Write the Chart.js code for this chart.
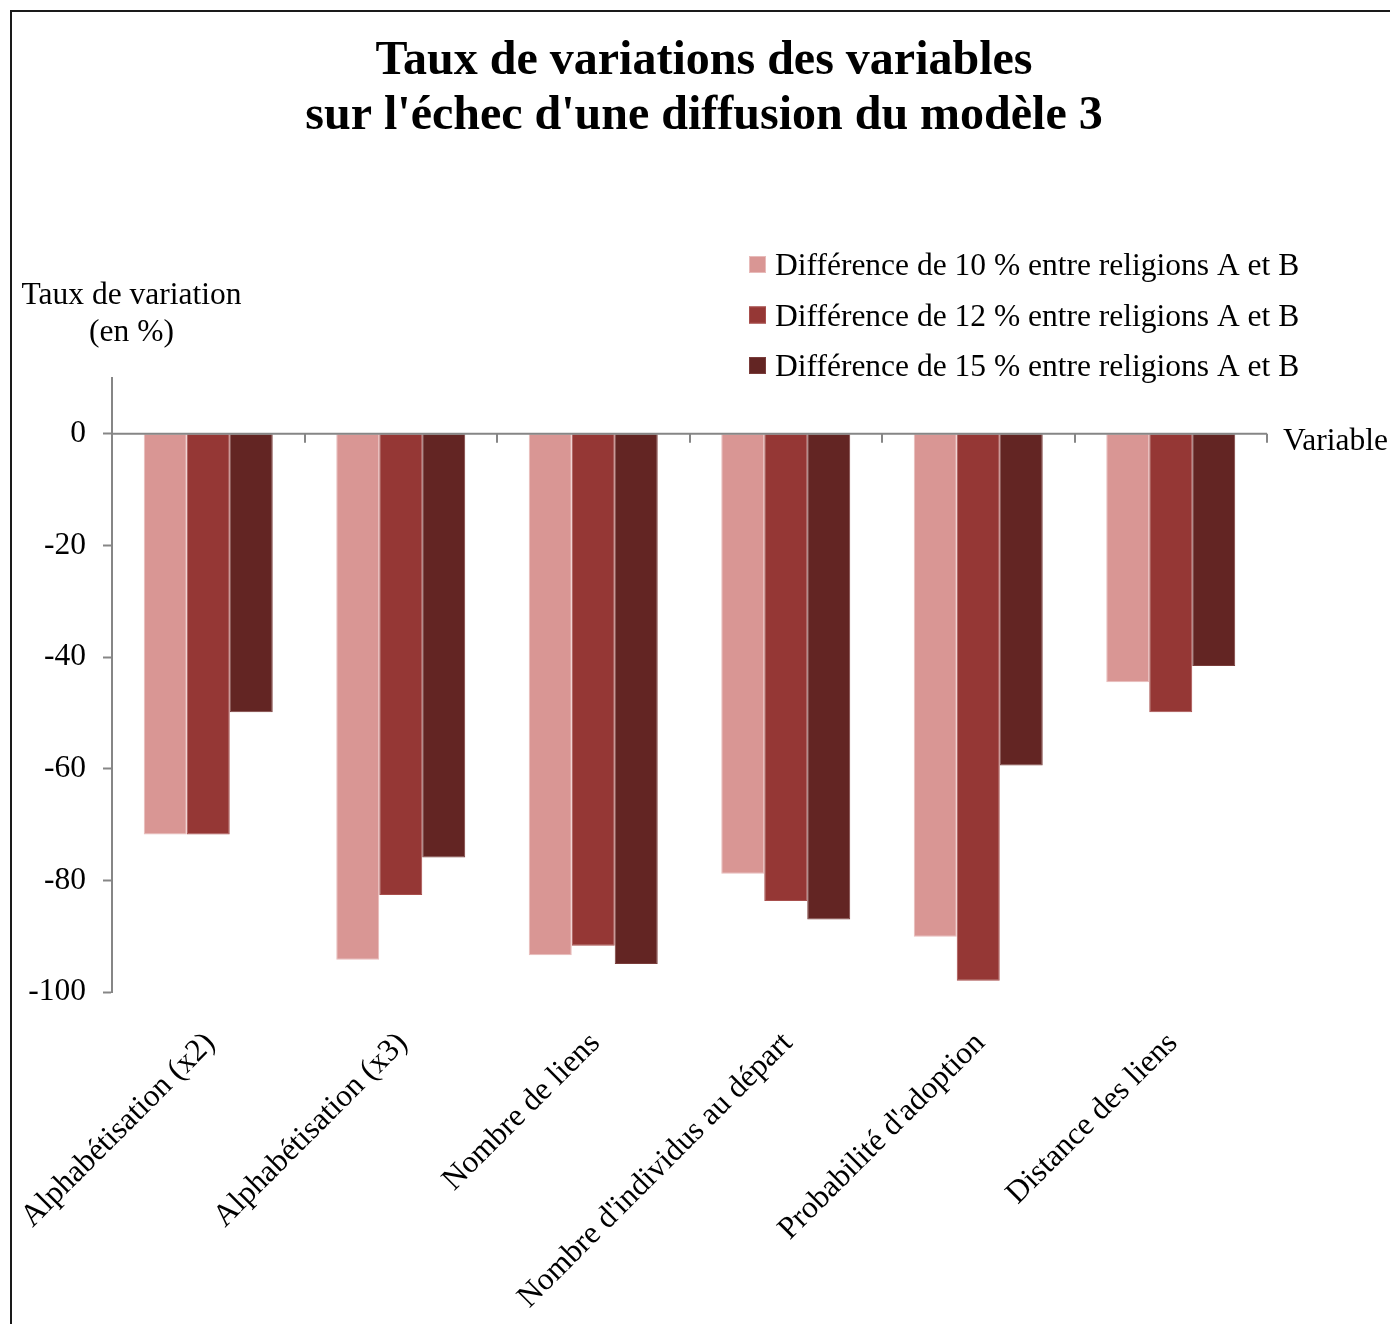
<!DOCTYPE html>
<html>
<head>
<meta charset="utf-8">
<script src="https://cdn.jsdelivr.net/npm/chart.js@4.4.1/dist/chart.umd.min.js"></script>
<style>
  html, body { margin: 0; padding: 0; background: #fff; overflow: hidden; }
  body { width: 1390px; height: 1324px; position: relative; }
  #cadre { position: absolute; left: 10px; top: 10px; width: 1500px; height: 1500px; border-left: 2px solid #1a1a1a; border-top: 2px solid #1a1a1a; }
  #wrap { position: absolute; left: 18px; top: 0; width: 1372px; height: 1324px; }
</style>
</head>
<body>
<div id="cadre"></div>
<div id="wrap"><canvas id="grafico" width="1372" height="1324"></canvas></div>
<script>
const variables = ['Alphabétisation (x2)', 'Alphabétisation (x3)', 'Nombre de liens', "Nombre d'individus au départ", "Probabilité d'adoption", 'Distance des liens'];
const diff10 = [-71.8, -94.2, -93.4, -78.8, -90.1, -44.5];
const diff12 = [-71.8, -82.6, -91.7, -83.7, -98.0, -49.9];
const diff15 = [-49.9, -75.9, -95.0, -87.0, -59.4, -41.6];
const nomsSeries = ['Différence de 10 % entre religions A et B', 'Différence de 12 % entre religions A et B', 'Différence de 15 % entre religions A et B'];
const ticksY = [-100, -80, -60, -40, -20, 0];
const titre = ['Taux de variations des variables', "sur l'échec d'une diffusion du modèle 3"];

const SERIF = "'Liberation Serif', 'Times New Roman', serif";
const GRIS = '#868686';

// axe du zero + petites graduations entre categories, titre, titres d'axes, legende
const decor = {
    id: 'decor',
    afterDatasetsDraw(chart) {
        const ctx = chart.ctx, area = chart.chartArea;
        const x = chart.scales.x, y = chart.scales.y;
        const y0 = y.getPixelForValue(0);
        const demi = (x.getPixelForValue(1) - x.getPixelForValue(0)) / 2;
        ctx.save();
        ctx.strokeStyle = GRIS; ctx.lineWidth = 2;
        ctx.beginPath();
        ctx.moveTo(area.left, y0); ctx.lineTo(area.right, y0);
        for (let i = 0; i <= variables.length; i++) {
            const px = Math.round(x.getPixelForValue(i) - demi);
            ctx.moveTo(px, y0); ctx.lineTo(px, y0 + 9);
        }
        ctx.stroke();
        ctx.restore();
    },
    afterDraw(chart) {
        const ctx = chart.ctx, area = chart.chartArea;
        const y0 = chart.scales.y.getPixelForValue(0);
        ctx.save();
        ctx.fillStyle = '#000';
        ctx.textAlign = 'center';
        ctx.textBaseline = 'middle';
        ctx.font = 'bold 48px ' + SERIF;
        titre.forEach((t, i) => ctx.fillText(t, 686, 62 + i * 55));

        ctx.font = '31.5px ' + SERIF;
        ctx.textBaseline = 'alphabetic';
        ctx.fillText('Taux de variation', 113.5, 304);
        ctx.fillText('(en %)', 113.5, 341);
        ctx.textAlign = 'left';
        ctx.fillText('Variable', area.right + 16, y0 + 16);

        chart.data.datasets.forEach((ds, i) => {
            const base = 275 + i * 50.5;
            ctx.fillStyle = ds.backgroundColor;
            ctx.fillRect(731, base - 19, 17, 17);
            ctx.strokeStyle = ds.borderColor; ctx.lineWidth = 1;
            ctx.strokeRect(731.5, base - 18.5, 16, 16);
            ctx.fillStyle = '#000';
            ctx.fillText(ds.label, 757, base);
        });
        ctx.restore();
    }
};

new Chart(document.getElementById('grafico'), {
    type: 'bar',
    data: {
        labels: variables,
        datasets: [
            { label: nomsSeries[0], data: diff10, backgroundColor: '#D99694', borderColor: '#E8BBBA', borderWidth: 1 },
            { label: nomsSeries[1], data: diff12, backgroundColor: '#953735', borderColor: '#A84F4D', borderWidth: 1 },
            { label: nomsSeries[2], data: diff15, backgroundColor: '#632523', borderColor: '#7A3D3B', borderWidth: 1 }
        ]
    },
    options: {
        responsive: false,
        devicePixelRatio: 1,
        animation: false,
        layout: { padding: { left: 0, right: 123, top: 378, bottom: 0 } },
        datasets: { bar: { categoryPercentage: 0.67, barPercentage: 1 } },
        plugins: {
            legend: { display: false },
            tooltip: { enabled: false },
            title: { display: false }
        },
        scales: {
            x: {
                position: 'bottom',
                grid: { display: false },
                border: { display: false },
                ticks: {
                    color: '#000', font: { family: SERIF, size: 31.5 },
                    maxRotation: 45, minRotation: 45, autoSkip: false,
                    padding: 25, labelOffset: 2
                },
                afterFit: s => { s.height = 332; s.paddingLeft = 0; s.paddingRight = 0; }
            },
            y: {
                min: -100, max: 10,
                afterBuildTicks: s => { s.ticks = ticksY.map(v => ({ value: v })); },
                grid: { display: true, drawOnChartArea: false, drawTicks: true, tickLength: 9, tickColor: GRIS, tickWidth: 2 },
                border: { display: true, color: GRIS, width: 2 },
                ticks: { color: '#000', font: { family: SERIF, size: 31.5 }, padding: 17 },
                afterFit: s => { s.width = 94; s.paddingTop = 0; s.paddingBottom = 0; }
            }
        }
    },
    plugins: [decor]
});
</script>
</body>
</html>
